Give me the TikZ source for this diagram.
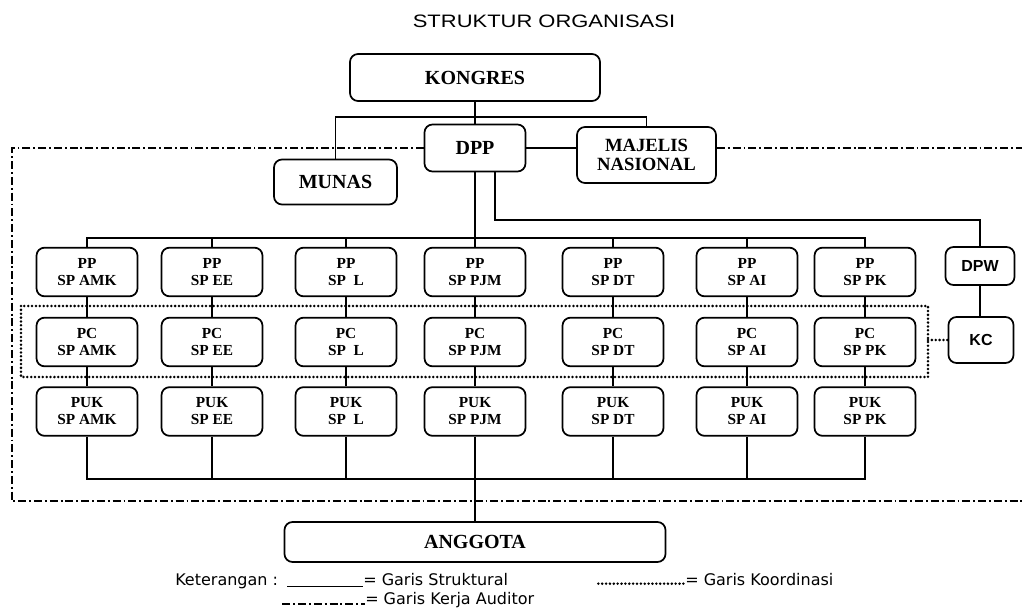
\documentclass[tikz,border=0pt]{standalone}
\usepackage{fontspec}
\usepackage{graphicx}
\setmainfont{Liberation Serif}
\newfontfamily\sansfont{Liberation Sans}
\newfontfamily\legendfont{DejaVu Sans}

\begin{document}
\begin{tikzpicture}[x=0.75pt, y=-0.75pt,
  mybox/.style = {draw=black, line width=1.3pt, rounded corners=6pt, fill=white, align=center, inner sep=0pt},
  bigbox/.style = {mybox, font=\bfseries\fontsize{15}{17}\selectfont},
  unitbox/.style = {mybox, minimum width=75.75pt, minimum height=36.5pt, font=\bfseries\fontsize{11.5}{12.75}\selectfont},
  sfbox/.style = {mybox, minimum width=50pt, font=\sansfont\bfseries\fontsize{12}{14}\selectfont},
  strukline/.style = {draw=black, line width=1.2pt},
  koorline/.style = {draw=black, line width=2.1pt, line cap=round, dash pattern=on 0pt off 2.9pt},
  auditline/.style = {draw=black, line width=1pt, dash pattern=on 6pt off 2.2pt on 1.4pt off 2.2pt},
  legend/.style = {anchor=base west, inner sep=0pt, font=\legendfont\fontsize{12}{13}\selectfont}]
\useasboundingbox (0,0) rectangle (1022,610);

\node (title) at (544,21) {\sansfont\fontsize{13.5}{15}\selectfont\scalebox{1.22}[1]{STRUKTUR ORGANISASI}};

\node[bigbox, minimum width=187.5pt, minimum height=35.25pt] (kongres) at (475,77.5) {KONGRES};
\node[bigbox, minimum width=75.75pt, minimum height=35.25pt] (dpp) at (475,148) {DPP};
\node[bigbox, minimum width=92.25pt, minimum height=33.75pt] (munas) at (335.5,182) {MUNAS};
\node[mybox, minimum width=104.25pt, minimum height=42pt, font=\bfseries\fontsize{14}{14.5}\selectfont] (majelis) at (646.5,155) {MAJELIS\\NASIONAL};

\node[unitbox] (ampp) at (87,272) {PP\\SP AMK};
\node[unitbox] (eepp) at (212,272) {PP\\SP EE};
\node[unitbox] (lpp) at (346,272) {PP\\SP~~L};
\node[unitbox] (pjmpp) at (475,272) {PP\\SP PJM};
\node[unitbox] (dtpp) at (613,272) {PP\\SP DT};
\node[unitbox] (aipp) at (747,272) {PP\\SP AI};
\node[unitbox] (pkpp) at (865,272) {PP\\SP PK};

\node[unitbox] (ampc) at (87,342) {PC\\SP AMK};
\node[unitbox] (eepc) at (212,342) {PC\\SP EE};
\node[unitbox] (lpc) at (346,342) {PC\\SP~~L};
\node[unitbox] (pjmpc) at (475,342) {PC\\SP PJM};
\node[unitbox] (dtpc) at (613,342) {PC\\SP DT};
\node[unitbox] (aipc) at (747,342) {PC\\SP AI};
\node[unitbox] (pkpc) at (865,342) {PC\\SP PK};

\node[unitbox] (ampuk) at (87,411.5) {PUK\\SP AMK};
\node[unitbox] (eepuk) at (212,411.5) {PUK\\SP EE};
\node[unitbox] (lpuk) at (346,411.5) {PUK\\SP~~L};
\node[unitbox] (pjmpuk) at (475,411.5) {PUK\\SP PJM};
\node[unitbox] (dtpuk) at (613,411.5) {PUK\\SP DT};
\node[unitbox] (aipuk) at (747,411.5) {PUK\\SP AI};
\node[unitbox] (pkpuk) at (865,411.5) {PUK\\SP PK};

\node[sfbox, minimum width=51.75pt, minimum height=28.5pt] (dpw) at (980,266) {DPW};
\node[sfbox, minimum width=48.75pt, minimum height=34.5pt] (kc) at (981,340) {KC};

\node[bigbox, minimum width=285.75pt, minimum height=30pt] (anggota) at (475,542) {ANGGOTA};

\coordinate (kbar) at (475,117);
\coordinate (unitbar) at (475,238);
\coordinate (dpwbar) at (980,220);
\coordinate (membar) at (475,479);
\coordinate (dotright) at (928,340);

\draw[strukline] (kongres) -- (dpp);
\draw[strukline] (munas.north) |- (kbar) -| (majelis.north);
\draw[strukline] (dpp.east) -- (dpp.east -| majelis.west);
\draw[strukline] (dpp) -- (pjmpp);
\draw[strukline] ([xshift=15pt]dpp.south) |- (dpwbar) -- (dpw);
\draw[strukline] (ampp.north) |- (unitbar) -| (pkpp.north);
\draw[strukline] (eepp) -- (eepp |- unitbar);
\draw[strukline] (lpp) -- (lpp |- unitbar);
\draw[strukline] (dtpp) -- (dtpp |- unitbar);
\draw[strukline] (aipp) -- (aipp |- unitbar);

\draw[strukline] (ampp) -- (ampc) -- (ampuk);
\draw[strukline] (eepp) -- (eepc) -- (eepuk);
\draw[strukline] (lpp) -- (lpc) -- (lpuk);
\draw[strukline] (pjmpp) -- (pjmpc) -- (pjmpuk);
\draw[strukline] (dtpp) -- (dtpc) -- (dtpuk);
\draw[strukline] (aipp) -- (aipc) -- (aipuk);
\draw[strukline] (pkpp) -- (pkpc) -- (pkpuk);
\draw[strukline] (dpw) -- (dpw |- kc.north);

\draw[strukline] (ampuk.south) |- (membar) -| (pkpuk.south);
\draw[strukline] (eepuk) -- (eepuk |- membar);
\draw[strukline] (lpuk) -- (lpuk |- membar);
\draw[strukline] (dtpuk) -- (dtpuk |- membar);
\draw[strukline] (aipuk) -- (aipuk |- membar);
\draw[strukline] (pjmpuk) -- (anggota);

\draw[koorline] (21,306) rectangle (928,377);
\draw[koorline] (dotright) -- (kc);

\draw[auditline] (dpp.west) -| (12,501) -- (1022,501);
\draw[auditline] (majelis.east |- dpp.west) -- (1022,148);

\node[legend] (ket) at (175,585) {Keterangan :};
\node[legend] (struk) at (363,585) {= Garis Struktural};
\node[legend] (audit) at (365,604) {= Garis Kerja Auditor};
\node[legend] (koor) at (685,585) {= Garis Koordinasi};
\draw[strukline] ([xshift=-57pt,yshift=-1pt]struk.base west) -- ([yshift=-1pt]struk.base west);
\draw[auditline, line width=0.9pt] ([xshift=-62pt]audit.base west) -- (audit.base west);
\draw[koorline] ([xshift=-65pt,yshift=1pt]koor.base west) -- ([yshift=1pt]koor.base west);
\end{tikzpicture}
\end{document}
